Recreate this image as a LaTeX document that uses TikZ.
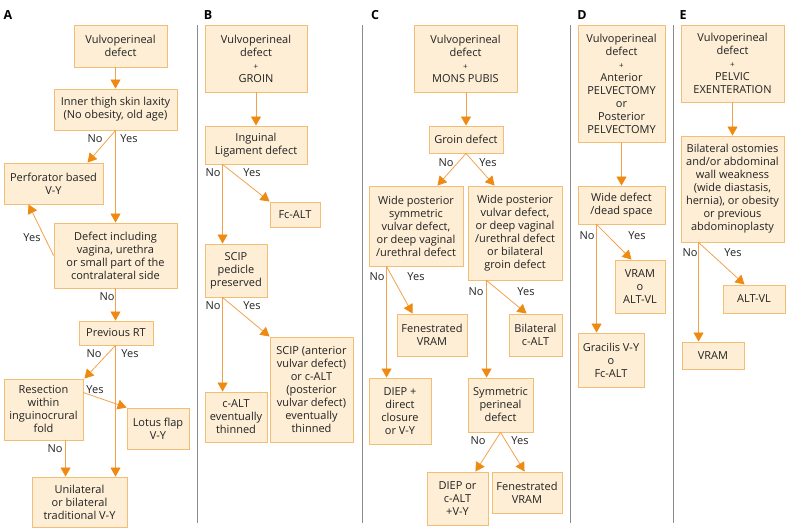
\documentclass[tikz,border=0pt]{standalone}
\usepackage{fontspec}
\setmainfont{Open Sans}
\usetikzlibrary{arrows.meta,calc}
\definecolor{boxfill}{HTML}{FDEED5}
\definecolor{boxdraw}{HTML}{F3BE73}
\definecolor{lnc}{HTML}{F2A24A}
\definecolor{tipc}{HTML}{EE8A12}
\definecolor{divc}{HTML}{8A8A8A}
\definecolor{txt}{HTML}{222222}
\begin{document}
\begin{tikzpicture}[x=1pt,y=-1pt,
  box/.style={draw=boxdraw,fill=boxfill,line width=0.9pt,inner sep=0pt,align=center,text=txt,font=\fontsize{11}{13}\selectfont},
  arr/.style={draw=lnc,line width=0.8pt,-{Triangle[width=10pt,length=9pt,color=tipc]}},
  lbl/.style={font=\fontsize{11}{12}\selectfont,text=txt,inner sep=0pt},
  panel/.style={font=\bfseries\fontsize{12.5}{14}\selectfont,inner sep=0pt},
  divider/.style={draw=divc,line width=0.7pt}]
\useasboundingbox (0,0) rectangle (787,532);
% panel letters
\node[panel] (pA) at (8,15) {A};
\node[panel] (pB) at (208,15) {B};
\node[panel] (pC) at (375,15) {C};
\node[panel] (pD) at (582,15) {D};
\node[panel] (pE) at (683,15) {E};
% dividers
\draw[divider] (197,25) -- (197,523);
\draw[divider] (362,25) -- (362,523);
\draw[divider] (570,25) -- (570,523);
\draw[divider] (673,25) -- (673,523);
% ---------- A ----------
\node[box,minimum width=93pt,minimum height=42pt] (a1) at (120.5,46) {Vulvoperineal\\defect};
\node[box,minimum width=123pt,minimum height=41pt] (a2) at (115.5,109.5) {Inner thigh skin laxity\\(No obesity, old age)};
\node[box,minimum width=99pt,minimum height=41pt] (a3) at (53.5,183.5) {Perforator based\\V-Y};
\node[box,minimum width=123pt,minimum height=65pt] (a4) at (115.5,255.5) {Defect including\\vagina, urethra\\or small part of the\\contralateral side};
\node[box,minimum width=74pt,minimum height=24pt] (a5) at (116,333) {Previous RT};
\node[box,minimum width=79pt,minimum height=61pt] (a6) at (43.5,409.5) {Resection\\within\\inguinocrural\\fold};
\node[box,minimum width=62pt,minimum height=41pt] (a7) at (158,428.5) {Lotus flap\\V-Y};
\node[box,minimum width=95pt,minimum height=50pt] (a8) at (79.5,502) {Unilateral\\or bilateral\\traditional V-Y};
\draw[arr] (a1.south -| a2.north) -- (a2.north);
\draw[arr] (a2.south) -- ($(a3.north west)+(84,0)$);
\draw[arr] (a2.south) -- (a4.north);
\draw[arr] (a4.west) -- ($(a3.south west)+(25,0)$);
\draw[arr] (a4.south) -- (a4.south |- a5.north);
\draw[arr] (a5.south -| a4.south) -- ($(a6.north east)+(1,0)$);
\draw[arr] (a5.south -| a4.south) -- (a8.north -| a4.south);
\draw[arr] ($(a6.north east)+(0,14)$) -- (a7.north west);
\draw[arr] ($(a6.south west)+(62,0)$) -- ($(a8.north west)+(34,0)$);
\node[lbl] (la1) at (95,139) {No};
\node[lbl] (la2) at (129,139) {Yes};
\node[lbl] (la3) at (32,238) {Yes};
\node[lbl] (la4) at (107,297) {No};
\node[lbl] (la5) at (94,354) {No};
\node[lbl] (la6) at (130,354) {Yes};
\node[lbl] (la7) at (95,390) {Yes};
\node[lbl] (la8) at (55,449) {No};
% ---------- B ----------
\node[box,minimum width=102pt,minimum height=67pt] (b1) at (256,58.5) {Vulvoperineal\\defect\\{\footnotesize +}\\GROIN};
\node[box,minimum width=102pt,minimum height=38pt] (b2) at (256,145) {Inguinal\\Ligament defect};
\node[box,minimum width=50pt,minimum height=25pt] (b3) at (295,214.5) {Fc-ALT};
\node[box,minimum width=62pt,minimum height=53pt] (b4) at (236,270.5) {SCIP\\pedicle\\preserved};
\node[box,minimum width=83pt,minimum height=105pt] (b5) at (311.5,389.5) {SCIP (anterior\\vulvar defect)\\or c-ALT\\(posterior\\vulvar defect)\\eventually\\thinned};
\node[box,minimum width=62pt,minimum height=50pt] (b6) at (236,417) {c-ALT\\eventually\\thinned};
\draw[arr] (b1) -- (b2);
\draw[arr] ($(b2.south west)+(18,0)$) -- (b3.north west);
\draw[arr] ($(b2.south west)+(18,0)$) -- ($(b4.north west)+(18,0)$);
\draw[arr] ($(b4.south west)+(18,0)$) -- (b5.north west);
\draw[arr] ($(b4.south west)+(18,0)$) -- ($(b6.north west)+(18,0)$);
\node[lbl] (lb1) at (213,173) {No};
\node[lbl] (lb2) at (252,173) {Yes};
\node[lbl] (lb3) at (213,306) {No};
\node[lbl] (lb4) at (252,306) {Yes};
% ---------- C ----------
\node[box,minimum width=103pt,minimum height=67pt] (c1) at (465.5,58.5) {Vulvoperineal\\defect\\{\footnotesize +}\\MONS PUBIS};
\node[box,minimum width=74pt,minimum height=27pt] (c2) at (466,139.5) {Groin defect};
\node[box,minimum width=94pt,minimum height=80pt] (c3) at (416,226) {Wide posterior\\symmetric\\vulvar defect,\\or deep vaginal\\/urethral defect};
\node[box,minimum width=94pt,minimum height=94pt] (c4) at (515,233) {Wide posterior\\vulvar defect,\\or deep vaginal\\/urethral defect\\or bilateral\\groin defect};
\node[box,minimum width=70pt,minimum height=42pt] (c5) at (432,335) {Fenestrated\\VRAM};
\node[box,minimum width=62pt,minimum height=66pt] (c6) at (400,411) {DIEP +\\direct\\closure\\or V-Y};
\node[box,minimum width=53pt,minimum height=42pt] (c7) at (535.5,335) {Bilateral\\c-ALT};
\node[box,minimum width=65pt,minimum height=54pt] (c8) at (500.5,405) {Symmetric\\perineal\\defect};
\node[box,minimum width=61pt,minimum height=53pt] (c9) at (457.5,498.5) {DIEP or\\c-ALT\\+V-Y};
\node[box,minimum width=70pt,minimum height=41pt] (c10) at (527,492.5) {Fenestrated\\VRAM};
\draw[arr] (c1.south -| c2.north) -- (c2.north);
\draw[arr] (c2.south) -- ($(c3.north east)+(-26,0)$);
\draw[arr] (c2.south) -- ($(c4.north west)+(27,0)$);
\draw[arr] ($(c3.south west)+(18,0)$) -- ($(c6.north west)+(18,0)$);
\draw[arr] ($(c3.south west)+(18,0)$) -- ($(c5.north west)+(16,0)$);
\draw[arr] ($(c4.south west)+(19,0)$) -- ($(c8.north west)+(19,0)$);
\draw[arr] ($(c4.south west)+(19,0)$) -- ($(c7.north west)+(18,0)$);
\draw[arr] (c8.south) -- ($(c9.north east)+(-13,0)$);
\draw[arr] (c8.south) -- ($(c10.north west)+(33,0)$);
\node[lbl] (lc1) at (446,163) {No};
\node[lbl] (lc2) at (488,163) {Yes};
\node[lbl] (lc3) at (377,277) {No};
\node[lbl] (lc4) at (416,277) {Yes};
\node[lbl] (lc5) at (476,292) {No};
\node[lbl] (lc6) at (526,292) {Yes};
\node[lbl] (lc7) at (478,441) {No};
\node[lbl] (lc8) at (520,441) {Yes};
% ---------- D ----------
\node[box,minimum width=87pt,minimum height=117pt] (d1) at (621.5,83.5) {Vulvoperineal\\defect\\{\footnotesize +}\\Anterior\\PELVECTOMY\\or\\Posterior\\PELVECTOMY};
\node[box,minimum width=87pt,minimum height=38pt] (d2) at (621.5,205) {Wide defect\\/dead space};
\node[box,minimum width=50pt,minimum height=53pt] (d3) at (640,286.5) {VRAM\\o\\ALT-VL};
\node[box,minimum width=66pt,minimum height=54pt] (d4) at (611,360) {Gracilis V-Y\\o\\Fc-ALT};
\draw[arr] (d1) -- (d2);
\draw[arr] ($(d2.south west)+(19,0)$) -- ($(d3.north west)+(17,0)$);
\draw[arr] ($(d2.south west)+(19,0)$) -- ($(d4.north west)+(19,0)$);
\node[lbl] (ld1) at (587,236) {No};
\node[lbl] (ld2) at (637,236) {Yes};
% ---------- E ----------
\node[box,minimum width=103pt,minimum height=77pt] (e1) at (732.5,63.5) {Vulvoperineal\\defect\\{\footnotesize +}\\PELVIC\\EXENTERATION};
\node[box,minimum width=103pt,minimum height=106pt] (e2) at (732.5,189) {Bilateral ostomies\\and/or abdominal\\wall weakness\\(wide diastasis,\\hernia), or obesity\\or previous\\abdominoplasty};
\node[box,minimum width=62pt,minimum height=28pt] (e3) at (754,299) {ALT-VL};
\node[box,minimum width=62pt,minimum height=27pt] (e4) at (713,355.5) {VRAM};
\draw[arr] (e1) -- (e2);
\draw[arr] ($(e2.south west)+(18,0)$) -- ($(e3.north west)+(22,0)$);
\draw[arr] ($(e2.south west)+(18,0)$) -- ($(e4.north west)+(17,0)$);
\node[lbl] (le1) at (690,253) {No};
\node[lbl] (le2) at (733,253) {Yes};
\end{tikzpicture}
\end{document}
